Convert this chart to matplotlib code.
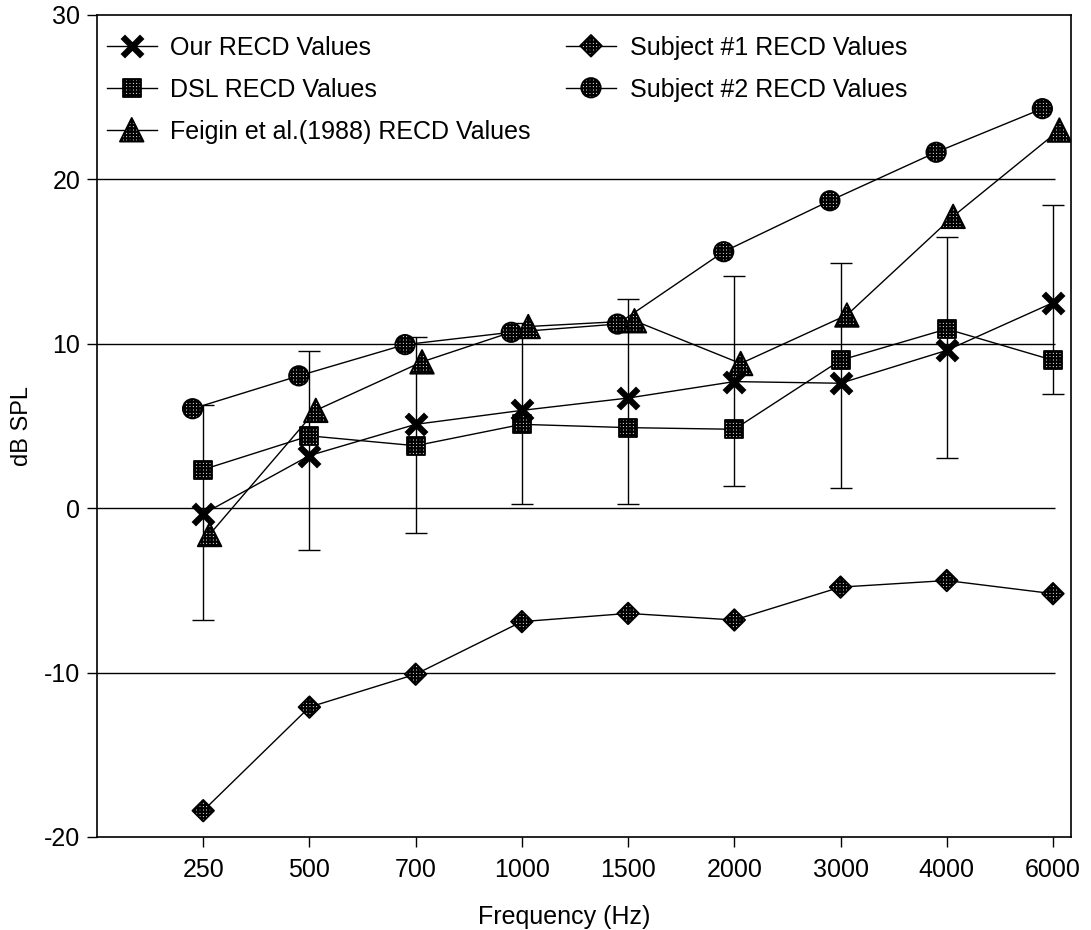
import matplotlib
matplotlib.use('Agg')
import matplotlib.pyplot as plt
from matplotlib.legend_handler import HandlerTuple
import numpy as np

plt.rcParams['font.family'] = ['Liberation Sans', 'DejaVu Sans']
plt.rcParams['hatch.linewidth'] = 1.6
plt.rcParams['axes.unicode_minus'] = False

# RECD values (dB SPL)
FREQS = ['250', '500', '700', '1000', '1500', '2000', '3000', '4000', '6000']
OUR = [-0.35, 3.2, 5.1, 5.95, 6.7, 7.7, 7.6, 9.6, 12.5]
DSL = [2.35, 4.4, 3.8, 5.1, 4.9, 4.8, 9.0, 10.9, 9.0]
FEIGIN = [-1.6, 5.95, 8.9, 11.05, 11.4, 8.8, 11.75, 17.75, 23.0]
SUBJ1 = [-18.4, -12.1, -10.1, -6.9, -6.4, -6.8, -4.8, -4.4, -5.2]
SUBJ2 = [6.05, 8.05, 9.95, 10.7, 11.2, 15.6, 18.7, 21.65, 24.3]
# error bar ends for our values
ERR_TOP = [6.3, 9.55, 10.4, 11.25, 12.75, 14.15, 14.9, 16.5, 18.45]
ERR_BOTTOM = [-6.8, -2.55, -1.5, 0.25, 0.25, 1.35, 1.25, 3.05, 6.95]
GRID_LEVELS = [-10, 0, 10, 20]

fig = plt.figure(figsize=(10.91, 9.30), dpi=100)
ax = fig.add_axes([0.0889, 0.1, 0.8928, 0.8839])

x = np.arange(len(FREQS))
our = np.array(OUR)
yerr = [our - np.array(ERR_BOTTOM), np.array(ERR_TOP) - our]

# horizontal reference lines (stop a bit short of the right frame)
ax.hlines(GRID_LEVELS, -1.0, 8.02, color='black', lw=1.0, zorder=1)

ax.errorbar(x, our, yerr=yerr, fmt='none', ecolor='black', elinewidth=1.0,
            capsize=8, capthick=1.0, zorder=2)

# (values, x shift, marker, size pt, label)
series = [
    (OUR, 0.0, 'x', 14, 'Our RECD Values'),
    (DSL, 0.0, 's', 13, 'DSL RECD Values'),
    (FEIGIN, 0.06, '^', 17, 'Feigin et al.(1988) RECD Values'),
    (SUBJ1, 0.0, 'D', 11, 'Subject #1 RECD Values'),
    (SUBJ2, -0.1, 'o', 14, 'Subject #2 RECD Values'),
]

handles = []
for vals, dx, mk, ms, label in series:
    xs = x + dx
    ln, = ax.plot(xs, vals, color='black', lw=1.0, zorder=3)
    if mk == 'x':
        sc = ax.scatter(xs, vals, s=ms ** 2, marker='x', color='black',
                        linewidths=4.5, zorder=5)
    else:
        sc = ax.scatter(xs, vals, s=ms ** 2, marker=mk, facecolor='white',
                        edgecolor='black', hatch='+++++', linewidths=1.3,
                        zorder=4)
    handles.append((ln, sc))

ax.set_xlim(-1.0, 8.17)
ax.set_ylim(-20, 30)
ax.set_xticks(x)
ax.set_xticklabels(FREQS)
ax.set_yticks(range(-20, 31, 10))
ax.tick_params(axis='both', direction='out', length=7, width=1.0,
               labelsize=18, colors='black')
ax.tick_params(axis='x', pad=8)
ax.tick_params(axis='y', pad=5)
for sp in ax.spines.values():
    sp.set_linewidth(1.2)

ax.set_xlabel('Frequency (Hz)', fontsize=18)
ax.set_ylabel('dB SPL', fontsize=17)
ax.xaxis.set_label_coords(0.48, -0.083)
ax.yaxis.set_label_coords(-0.066, 0.5)

ax.legend(handles, [s[4] for s in series], ncol=2, loc='upper left',
          bbox_to_anchor=(0.01, 0.975), frameon=False, fontsize=18,
          handler_map={tuple: HandlerTuple(ndivide=1)},
          scatterpoints=1, scatteryoffsets=[0.5], handlelength=2.0,
          handletextpad=0.55, labelspacing=0.72, columnspacing=1.4,
          borderpad=0, borderaxespad=0)

fig.savefig('out.png', dpi=100)
